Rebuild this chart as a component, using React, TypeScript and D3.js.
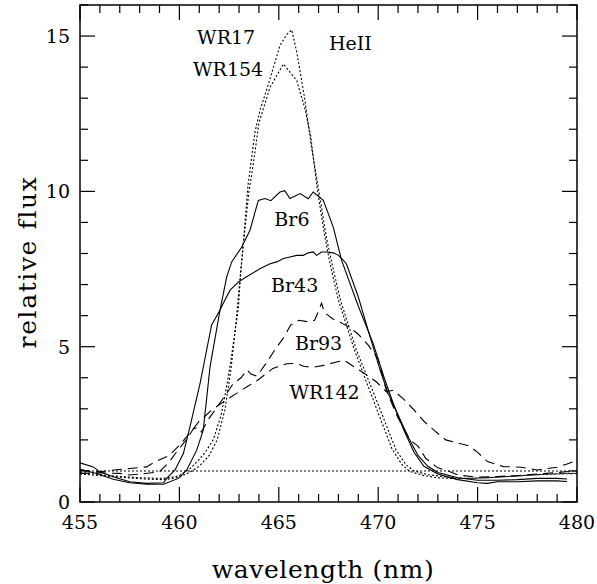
import React from "react";
import * as d3 from "d3";

const xTicksMajor = [455, 460, 465, 470, 475, 480];
const yTicksMajor = [0, 5, 10, 15];

// [wavelength nm, relative flux]
const wr17: [number, number][] = [
  [455, 0.95], [456, 0.88], [457, 0.82], [458, 0.78], [459, 0.76], [459.5, 0.78], [460, 0.85],
  [460.5, 1.05], [460.9, 1.3], [461.3, 1.6], [461.7, 2.0], [462.1, 2.8], [462.4, 3.8], [462.6, 4.6],
  [462.8, 5.5], [462.96, 6.2], [463.1, 7.5], [463.25, 8.6], [463.45, 10.2], [463.8, 11.9],
  [464.05, 12.6], [464.5, 13.5], [465.06, 14.7], [465.4, 15.05], [465.65, 15.2], [465.9, 14.5],
  [466.3, 13.0], [466.65, 11.4], [467.07, 9.8], [467.4, 8.5], [467.7, 7.6], [468.1, 6.5],
  [468.9, 4.9], [469.9, 3.3], [470.9, 1.67], [471.4, 1.2], [471.8, 1.0], [472.5, 0.88],
  [473.5, 0.8], [474.5, 0.76], [475.5, 0.78], [476.5, 0.82], [477.5, 0.86], [478.5, 0.9],
  [479.5, 0.92], [480, 0.93],
];

const wr154: [number, number][] = [
  [455, 0.9], [456, 0.85], [457, 0.8], [458, 0.75], [459, 0.72], [459.5, 0.74], [460, 0.8],
  [460.5, 0.95], [461, 1.15], [461.5, 1.5], [461.9, 2.0], [462.3, 3.0], [462.6, 4.3],
  [462.85, 5.8], [463.05, 7.2], [463.25, 8.5], [463.5, 10.0], [463.7, 10.8], [464.0, 12.2],
  [464.56, 13.35], [465.23, 14.1], [465.9, 13.57], [466.3, 12.7], [466.6, 11.8], [466.95, 10.0],
  [467.3, 8.6], [467.6, 7.6], [468.0, 6.5], [468.8, 4.9], [469.8, 3.2], [470.7, 1.7],
  [471.2, 1.2], [471.6, 0.98], [472.3, 0.85], [473, 0.78], [474, 0.75], [475, 0.77],
  [476, 0.8], [477, 0.84], [478, 0.88], [479, 0.9], [480, 0.92],
];

const continuum: [number, number][] = [[455, 1.0], [480, 1.0]];

const br6: [number, number][] = [
  [455, 1.05], [455.84, 0.92], [456.67, 0.73], [457.5, 0.62], [458.35, 0.57], [459.2, 0.57],
  [459.95, 0.76], [460.37, 1.03], [460.87, 1.67], [461.2, 2.31], [461.54, 4.35], [462.04, 6.17],
  [462.38, 7.25], [462.63, 7.73], [463.13, 8.2], [463.55, 8.75], [463.97, 9.71], [464.3, 9.77],
  [464.6, 9.7], [465.06, 9.98], [465.3, 10.02], [465.56, 9.77], [466.07, 9.93], [466.48, 9.76],
  [466.73, 9.98], [467.24, 9.71], [467.74, 8.85], [468.16, 7.78], [469.0, 6.3], [469.75, 5.1],
  [470.3, 4.0], [470.8, 3.1], [471.3, 2.3], [471.8, 1.6], [472.3, 1.15], [473, 0.9],
  [474, 0.72], [475, 0.62], [475.5, 0.6], [476, 0.65], [477, 0.65], [478, 0.68], [479, 0.68],
  [479.5, 0.66],
];

const br43: [number, number][] = [
  [455, 1.26], [455.67, 1.13], [456.0, 0.97], [456.67, 0.81], [457.5, 0.65], [458.35, 0.6],
  [459.2, 0.62], [459.36, 0.76], [459.78, 1.03], [460.2, 1.56], [460.53, 2.42], [461.04, 3.82],
  [461.62, 5.7], [462.04, 6.17], [462.2, 6.39], [462.55, 6.82], [462.96, 7.08], [463.38, 7.25],
  [464.05, 7.51], [464.56, 7.67], [464.9, 7.73], [465.23, 7.84], [465.56, 7.89], [465.9, 7.94],
  [466.23, 7.94], [466.48, 8.02], [466.73, 8.05], [466.9, 7.94], [467.15, 8.05], [467.4, 8.05],
  [467.74, 8.02], [468.0, 7.94], [468.25, 7.78], [468.4, 7.67], [469.0, 6.6], [469.6, 5.3],
  [470.1, 4.24], [470.5, 3.5], [471.0, 2.8], [471.5, 2.1], [472.0, 1.5], [472.5, 1.15],
  [473, 0.95], [474, 0.78], [475, 0.7], [476, 0.7], [477, 0.72], [478, 0.76], [479, 0.76],
  [479.5, 0.74],
];

const br93: [number, number][] = [
  [455, 0.92], [456, 0.94], [457, 0.92], [457.5, 0.87], [458.3, 0.92], [459, 0.97], [459.5, 1.3],
  [459.9, 1.65], [460.4, 2.05], [460.7, 2.35], [460.9, 2.4], [461.1, 2.25], [461.5, 2.7],
  [462, 3.15], [462.7, 3.8], [463.1, 4.0], [463.4, 4.25], [463.6, 4.12], [463.9, 4.05],
  [464.4, 4.5], [464.8, 4.9], [465.2, 5.25], [465.6, 5.7], [466.0, 5.85], [466.5, 5.8],
  [466.8, 5.85], [467.0, 6.15], [467.15, 6.4], [467.3, 6.1], [467.7, 5.9], [468.2, 5.75],
  [468.6, 5.6], [469.0, 5.4], [469.5, 5.05], [470.0, 4.6], [470.4, 3.6], [471.0, 2.7],
  [471.6, 2.0], [472.0, 1.8], [472.4, 1.4], [473.0, 1.1], [473.5, 1.0], [474, 0.87],
  [475, 0.8], [476, 0.82], [477, 0.85], [478, 0.9], [479, 0.95], [480, 1.0],
];

const wr142: [number, number][] = [
  [455, 1.03], [456, 0.97], [456.7, 1.03], [457.5, 1.08], [458.35, 1.13], [458.8, 1.3],
  [459.5, 1.5], [460.0, 1.83], [460.5, 2.2], [461.0, 2.6], [461.7, 3.0], [462.4, 3.3],
  [463.0, 3.55], [463.5, 3.75], [464.0, 3.95], [464.7, 4.3], [465.4, 4.45], [465.9, 4.46],
  [466.25, 4.37], [466.65, 4.33], [467.2, 4.39], [467.8, 4.49], [468.3, 4.56], [468.9, 4.3],
  [469.4, 4.1], [469.9, 3.87], [470.4, 3.55], [470.75, 3.6], [471.25, 3.33], [471.75, 3.0],
  [472.3, 2.6], [472.9, 2.26], [473.4, 2.0], [474.0, 1.9], [474.6, 1.8], [475.0, 1.6],
  [475.5, 1.3], [476.3, 1.14], [477.2, 1.12], [478.0, 1.03], [479.0, 1.12], [479.5, 1.22],
  [480, 1.35],
];

const labels = [
  { text: "WR17", w: 462.35, v: 14.75 },
  { text: "WR154", w: 462.45, v: 13.72 },
  { text: "HeII", w: 468.6, v: 14.55 },
  { text: "Br6", w: 465.66, v: 8.87 },
  { text: "Br43", w: 465.8, v: 6.75 },
  { text: "Br93", w: 467.0, v: 4.9 },
  { text: "WR142", w: 467.3, v: 3.3 },
];

const W = 597;
const H = 584;
const left = 80, right = 577, top = 5, bottom = 502;
const FONT = "DejaVu Serif";

export default function App() {
  const x = d3.scaleLinear().domain([455, 480]).range([left, right]);
  const y = d3.scaleLinear().domain([0, 16]).range([bottom, top]);
  const line = d3.line<[number, number]>().x((d) => x(d[0])).y((d) => y(d[1]));

  const xMinor = d3.range(455, 481, 1);
  const yMinor = d3.range(0, 17, 1);

  const series = [
    { d: wr17, dash: "2,2" },
    { d: wr154, dash: "2,2" },
    { d: continuum, dash: "2,2" },
    { d: br6, dash: "" },
    { d: br43, dash: "" },
    { d: br93, dash: "10,6" },
    { d: wr142, dash: "10,6" },
  ];

  return (
    <svg width={W} height={H} style={{ position: "absolute", left: 0, top: 0, background: "#fff" }}>
      <rect x={0} y={0} width={W} height={H} fill="#fff" />
      <defs>
        <clipPath id="clip">
          <rect x={left} y={top} width={right - left} height={bottom - top} />
        </clipPath>
      </defs>
      <g clipPath="url(#clip)">
        {series.map((s, i) => (
          <path key={i} d={line(s.d) || ""} fill="none" stroke="#000" strokeWidth={1.1}
            strokeDasharray={s.dash || undefined} />
        ))}
      </g>
      <rect x={left} y={top} width={right - left} height={bottom - top} fill="none" stroke="#000" strokeWidth={1.5} />
      {xMinor.map((t) => {
        const major = t % 5 === 0;
        const len = major ? 15 : 8;
        return (
          <g key={"x" + t}>
            <line x1={x(t)} x2={x(t)} y1={bottom} y2={bottom - len} stroke="#000" strokeWidth={1.2} />
            <line x1={x(t)} x2={x(t)} y1={top} y2={top + len} stroke="#000" strokeWidth={1.2} />
          </g>
        );
      })}
      {yMinor.map((t) => {
        const major = t % 5 === 0;
        const len = major ? 15 : 8;
        return (
          <g key={"y" + t}>
            <line x1={left} x2={left + len} y1={y(t)} y2={y(t)} stroke="#000" strokeWidth={1.2} />
            <line x1={right} x2={right - len} y1={y(t)} y2={y(t)} stroke="#000" strokeWidth={1.2} />
          </g>
        );
      })}
      {xTicksMajor.map((t) => (
        <text key={"xl" + t} x={x(t)} y={bottom + 27} textAnchor="middle" fontFamily={FONT} fontSize={19}>
          {t}
        </text>
      ))}
      {yTicksMajor.map((t) => (
        <text key={"yl" + t} x={left - 10} y={y(t) + 7} textAnchor="end" fontFamily={FONT} fontSize={19}>
          {t}
        </text>
      ))}
      {labels.map((l) => (
        <text key={l.text} x={x(l.w)} y={y(l.v)} textAnchor="middle" fontFamily={FONT} fontSize={19}>
          {l.text}
        </text>
      ))}
      <text x={323} y={578} textAnchor="middle" fontFamily={FONT} fontSize={25} letterSpacing={0.6}>
        wavelength (nm)
      </text>
      <text transform={`translate(36, 262) rotate(-90)`} textAnchor="middle"
        fontFamily={FONT} fontSize={25} letterSpacing={1.6}>
        relative flux
      </text>
    </svg>
  );
}
